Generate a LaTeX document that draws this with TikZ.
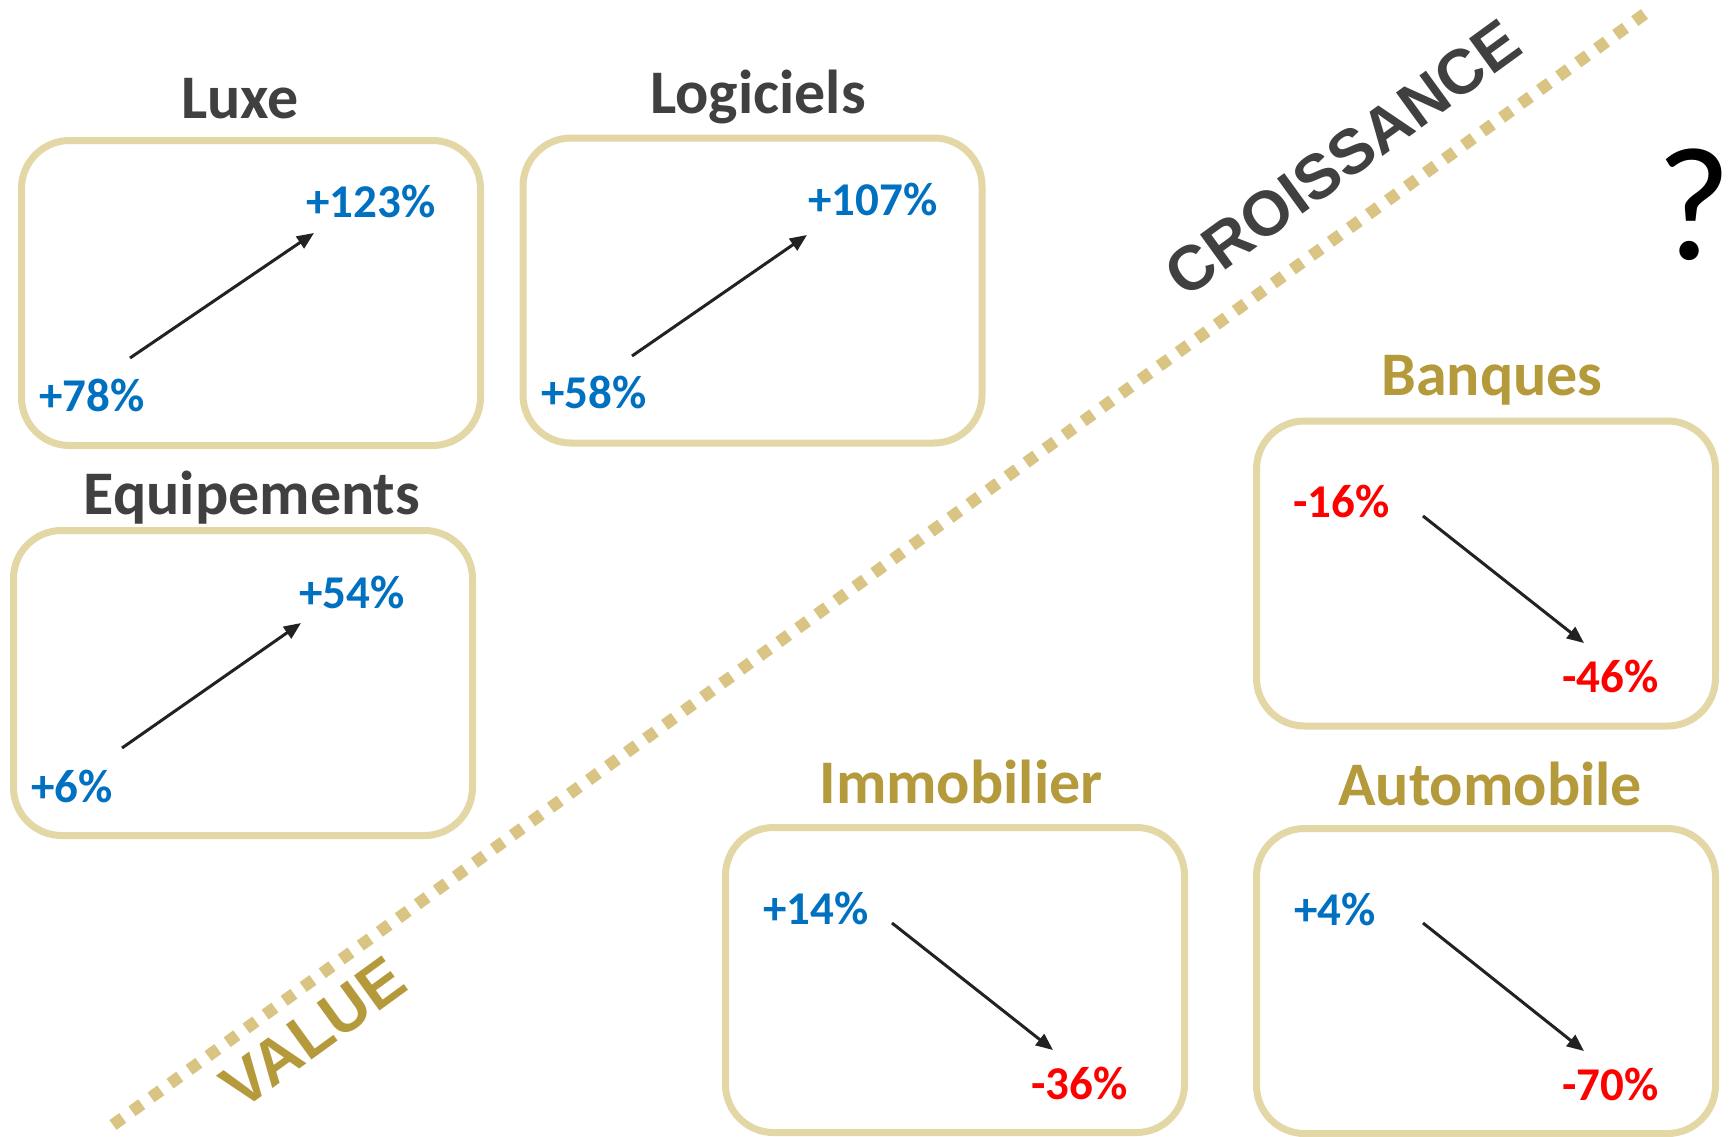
\documentclass[tikz,border=0pt]{standalone}
\usepackage{fontspec}
\setmainfont{Carlito}
\newfontfamily\arialfont{Liberation Sans}
\usetikzlibrary{arrows.meta}
\definecolor{boxline}{RGB}{228,215,166}
\definecolor{dotline}{RGB}{217,196,131}
\definecolor{goldtxt}{RGB}{181,154,59}
\definecolor{darktxt}{RGB}{64,64,64}
\definecolor{bluetxt}{RGB}{0,112,192}
\definecolor{redtxt}{RGB}{255,0,0}
\definecolor{arrowc}{RGB}{34,34,34}
\begin{document}
\begin{tikzpicture}[x=1pt,y=-1pt,
 sector/.style={rectangle, draw=boxline, line width=7pt, rounded corners=48pt, minimum width=459pt, minimum height=305pt, inner sep=0pt},
 darktitle/.style={font=\fontsize{62}{74}\selectfont\bfseries, text=darktxt, anchor=base, inner sep=0pt},
 goldtitle/.style={darktitle, text=goldtxt},
 upval/.style={font=\fontsize{47}{56}\selectfont\bfseries, text=bluetxt, anchor=base west, inner sep=0pt},
 downval/.style={upval, text=redtxt},
 trend/.style={draw=arrowc, line width=3pt, -{Triangle[length=17pt,width=14pt]}},
 axislabel/.style={font=\arialfont\bfseries\fontsize{63}{75}\selectfont, rotate=36, inner sep=0pt},
]
\useasboundingbox[fill=white] (0,0) rectangle (1732,1136);

% dotted divider
\coordinate (dA) at (113,1125);
\coordinate (dB) at (1650,10);
\draw[dotline, line width=12pt, dash pattern=on 12pt off 11.5pt] (dA) -- (dB);

\node[axislabel, text=darktxt] (croiss) at (1343,158) {CROISSANCE};
\node[axislabel, text=goldtxt] (value) at (313,1033) {VALUE};

\node[font=\fontsize{162}{190}\selectfont, anchor=base east, inner sep=0pt] (quest) at (1732,259) {?};

% boxes
\node[sector] (bLuxe) at (251,293) {};
\node[sector] (bLog) at (752.5,290.5) {};
\node[sector] (bEq) at (243,683) {};
\node[sector] (bBan) at (1486,573.5) {};
\node[sector] (bImm) at (955,980) {};
\node[sector] (bAuto) at (1486,981) {};

% titles
\node[darktitle] (tLuxe) at (240,118) {Luxe};
\node[darktitle] (tLog) at (758,113) {Logiciels};
\node[darktitle] (tEq) at (252,514) {Equipements};
\node[goldtitle] (tBan) at (1492,395) {Banques};
\node[goldtitle] (tImm) at (961,803) {Immobilier};
\node[goldtitle] (tAuto) at (1490,805) {Automobile};

% values
\node[upval] (v1) at (306,217) {+123\%};
\node[upval] (v2) at (39,411) {+78\%};
\node[upval] (v3) at (808,215) {+107\%};
\node[upval] (v4) at (541,408) {+58\%};
\node[upval] (v5) at (299,608) {+54\%};
\node[upval] (v6) at (31,802) {+6\%};
\node[downval] (v7) at (1293,517) {-16\%};
\node[downval] (v8) at (1562,692) {-46\%};
\node[upval] (v9) at (763,924) {+14\%};
\node[downval] (v10) at (1031,1099) {-36\%};
\node[upval] (v11) at (1294,925) {+4\%};
\node[downval] (v12) at (1562,1100) {-70\%};

% arrow ends
\coordinate (a1s) at (130,358); \coordinate (a1e) at (314,233);
\coordinate (a2s) at (632,356); \coordinate (a2e) at (807,235);
\coordinate (a3s) at (122,748); \coordinate (a3e) at (301,623);
\coordinate (a4s) at (1423,516); \coordinate (a4e) at (1584,643);
\coordinate (a5s) at (892,923); \coordinate (a5e) at (1053,1050);
\coordinate (a6s) at (1423,923); \coordinate (a6e) at (1584,1051);
\draw[trend] (a1s) -- (a1e);
\draw[trend] (a2s) -- (a2e);
\draw[trend] (a3s) -- (a3e);
\draw[trend] (a4s) -- (a4e);
\draw[trend] (a5s) -- (a5e);
\draw[trend] (a6s) -- (a6e);
\end{tikzpicture}
\end{document}
